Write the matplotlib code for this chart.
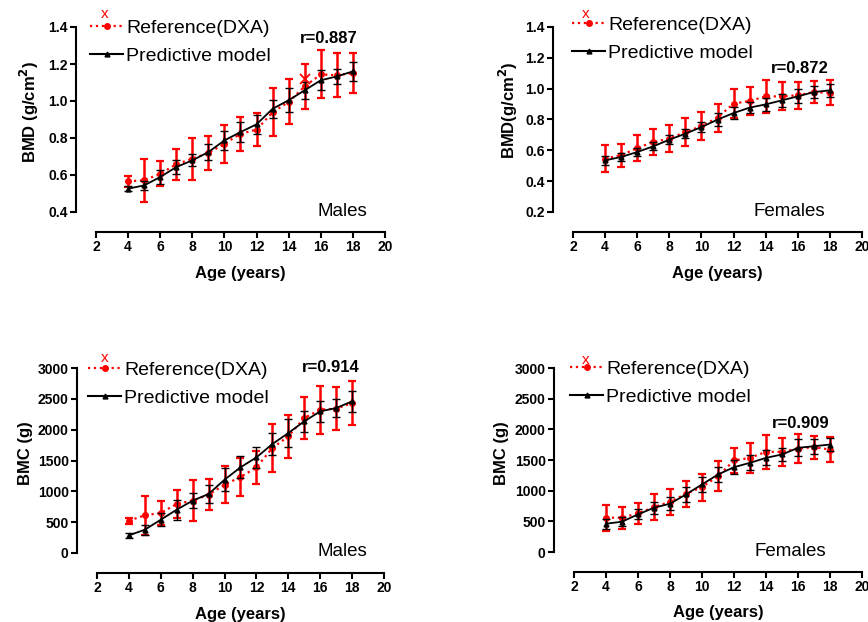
import numpy as np
from matplotlib import pyplot as plt
from matplotlib.lines import Line2D

plt.rcParams['font.family'] = ['Liberation Sans', 'DejaVu Sans']

age = [4, 5, 6, 7, 8, 9, 10, 11, 12, 13, 14, 15, 16, 17, 18]

# BMD males
bmd_m_ref = [0.566, 0.571, 0.607, 0.658, 0.688, 0.719, 0.769, 0.823, 0.845, 0.939, 0.995, 1.079, 1.144, 1.139, 1.151]
bmd_m_ref_sd = [0.03, 0.117, 0.068, 0.085, 0.113, 0.092, 0.103, 0.093, 0.09, 0.13, 0.122, 0.12, 0.13, 0.12, 0.106]
bmd_m_pred = [0.526, 0.544, 0.589, 0.643, 0.679, 0.724, 0.787, 0.832, 0.874, 0.958, 1.004, 1.058, 1.112, 1.133, 1.16]
bmd_m_pred_sd = [0.015, 0.025, 0.036, 0.04, 0.032, 0.041, 0.05, 0.054, 0.052, 0.05, 0.066, 0.045, 0.054, 0.042, 0.05]
bmd_m_stray = (15, 1.12)

# BMD females
bmd_f_ref = [0.546, 0.568, 0.615, 0.654, 0.676, 0.719, 0.756, 0.812, 0.903, 0.92, 0.95, 0.95, 0.957, 0.978, 0.972]
bmd_f_ref_sd = [0.086, 0.076, 0.086, 0.082, 0.087, 0.088, 0.09, 0.09, 0.095, 0.09, 0.106, 0.09, 0.087, 0.074, 0.081]
bmd_f_pred = [0.535, 0.557, 0.589, 0.626, 0.669, 0.708, 0.751, 0.799, 0.842, 0.877, 0.898, 0.924, 0.95, 0.978, 0.989]
bmd_f_pred_sd = [0.03, 0.025, 0.025, 0.025, 0.03, 0.03, 0.035, 0.04, 0.04, 0.035, 0.04, 0.04, 0.045, 0.04, 0.04]

# BMC males
bmc_m_ref = [524, 611, 649, 795, 849, 946, 1108, 1232, 1389, 1703, 1892, 2189, 2324, 2340, 2432]
bmc_m_ref_sd = [50, 320, 190, 230, 330, 255, 300, 305, 270, 390, 350, 340, 390, 350, 350]
bmc_m_pred = [286, 378, 540, 703, 849, 957, 1189, 1389, 1551, 1767, 1946, 2135, 2297, 2351, 2459]
bmc_m_pred_sd = [45, 80, 110, 160, 120, 140, 190, 180, 170, 180, 230, 175, 175, 150, 170]

# BMC females
bmc_f_ref = [559, 559, 629, 732, 819, 949, 1058, 1237, 1492, 1535, 1633, 1633, 1687, 1709, 1671]
bmc_f_ref_sd = [210, 180, 175, 210, 215, 210, 220, 245, 210, 240, 280, 225, 240, 185, 205]
bmc_f_pred = [461, 494, 613, 722, 787, 939, 1101, 1264, 1383, 1454, 1535, 1590, 1698, 1725, 1752]
bmc_f_pred_sd = [80, 70, 80, 100, 110, 120, 120, 130, 110, 120, 120, 110, 140, 120, 100]

W, H = 868, 622
fig = plt.figure(figsize=(W / 100, H / 100), dpi=100)


def px_axes(left, right, top, bottom):
    return fig.add_axes([left / W, 1 - bottom / H, (right - left) / W, (bottom - top) / H])


# leg = (legend x offset px, legend top px above axes, red x frac, red x px above axes)
panels = [
    dict(box=(96, 385, 27, 212), ref=bmd_m_ref, ref_sd=bmd_m_ref_sd, pred=bmd_m_pred, pred_sd=bmd_m_pred_sd,
         ylim=(0.4, 1.4), yticks=np.arange(0.4, 1.41, 0.2), fmt='{:.1f}', ylabel='BMD (g/cm$^{\\mathbf{2}}$)',
         r='r=0.887', rpos=(0.806, 0.94), sex='Males', spos=(0.851, 0.005), ylab=(-0.19, 0.54),
         leg=(-6, 8, 0.031, 13)),
    dict(box=(573, 862, 27, 212), ref=bmd_f_ref, ref_sd=bmd_f_ref_sd, pred=bmd_f_pred, pred_sd=bmd_f_pred_sd,
         ylim=(0.2, 1.4), yticks=np.arange(0.2, 1.41, 0.2), fmt='{:.1f}', ylabel='BMD(g/cm$^{\\mathbf{2}}$)',
         r='r=0.872', rpos=(0.785, 0.778), sex='Females', spos=(0.747, 0.005), ylab=(-0.184, 0.55),
         leg=(-1, 11, 0.045, 13)),
    dict(box=(97, 384, 368, 553), ref=bmc_m_ref, ref_sd=bmc_m_ref_sd, pred=bmc_m_pred, pred_sd=bmc_m_pred_sd,
         ylim=(0, 3000), yticks=np.arange(0, 3001, 500), fmt='{:.0f}', ylabel='BMC (g)',
         r='r=0.914', rpos=(0.815, 1.0), sex='Males', spos=(0.854, 0.01), ylab=(-0.222, 0.54),
         leg=(-9, 7, 0.028, 10)),
    dict(box=(574, 862, 368, 552), ref=bmc_f_ref, ref_sd=bmc_f_ref_sd, pred=bmc_f_pred, pred_sd=bmc_f_pred_sd,
         ylim=(0, 3000), yticks=np.arange(0, 3001, 500), fmt='{:.0f}', ylabel='BMC (g)',
         r='r=0.909', rpos=(0.788, 0.70), sex='Females', spos=(0.75, 0.005), ylab=(-0.225, 0.54),
         leg=(-4, 8, 0.042, 8)),
]

for i, p in enumerate(panels):
    left, right, top, bottom = p['box']
    aw, ah = right - left, bottom - top
    ax = px_axes(*p['box'])
    ax.errorbar(age, p['ref'], yerr=p['ref_sd'], color='#ff0000', ls=':', lw=1.6, marker='o', ms=4,
                elinewidth=1.8, capsize=3, capthick=1.6, zorder=2)
    ax.errorbar(age, p['pred'], yerr=p['pred_sd'], color='black', ls='-', lw=1.3, marker='^', ms=3.5,
                elinewidth=1.0, capsize=3, capthick=1.0, zorder=3)
    if i == 0:
        ax.plot(*bmd_m_stray, marker='x', color='red', ms=7, mew=1.3, ls='none', zorder=4)

    ax.set_xlim(2, 20)
    ax.set_ylim(*p['ylim'])
    ax.set_xticks(range(2, 21, 2))
    ax.set_yticks(p['yticks'])
    ax.set_yticklabels([p['fmt'].format(v) for v in p['yticks']])
    for s in ['top', 'right']:
        ax.spines[s].set_visible(False)
    for s in ['left', 'bottom']:
        ax.spines[s].set_position(('outward', 14.4))
        ax.spines[s].set_linewidth(1.5)
    ax.tick_params(width=1.5, length=4, labelsize=10, pad=2)
    for lab in ax.get_xticklabels() + ax.get_yticklabels():
        lab.set_fontweight('bold')

    ax.set_xlabel('Age (years)', fontsize=12, fontweight='bold')
    ax.xaxis.set_label_coords(0.5, -0.29)
    ax.set_ylabel(p['ylabel'], fontsize=12, fontweight='bold')
    ax.yaxis.set_label_coords(*p['ylab'])

    ax.text(*p['rpos'], p['r'], transform=ax.transAxes, fontsize=12, fontweight='bold',
            ha='center', va='center')
    ax.text(*p['spos'], p['sex'], transform=ax.transAxes, fontsize=13.5, ha='center', va='center')

    dx, dtop, xfrac, xup = p['leg']
    handles = [Line2D([], [], color='red', ls=':', lw=1.6, marker='o', ms=4),
               Line2D([], [], color='black', ls='-', lw=1.5, marker='^', ms=3.5)]
    ax.legend(handles, ['Reference(DXA)', 'Predictive model'], loc='upper left',
              bbox_to_anchor=(dx / aw, 1 + dtop / ah), frameon=False, fontsize=14, borderpad=0,
              handlelength=1.7, handletextpad=0.15, labelspacing=0.53, borderaxespad=0)
    ax.text(xfrac, 1 + xup / ah, 'x', transform=ax.transAxes, color='red', fontsize=11,
            ha='center', va='center')

fig.savefig('out.png', dpi=100)
